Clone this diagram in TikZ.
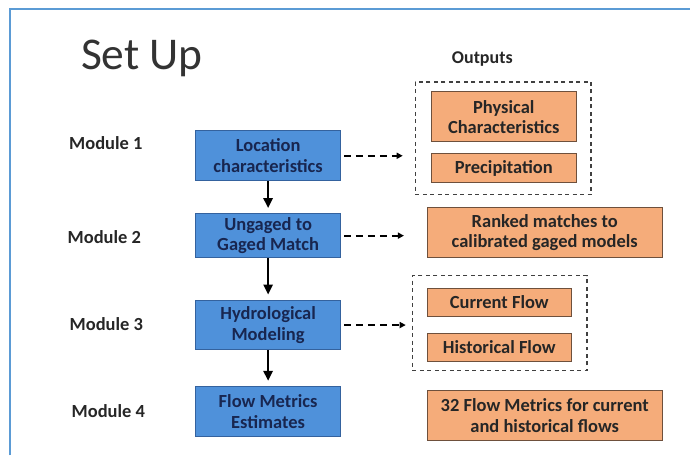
\documentclass[tikz,border=0pt]{standalone}
\usepackage{fontspec}
\setmainfont{Carlito}
\usetikzlibrary{arrows.meta}
\definecolor{slideline}{RGB}{91,155,213}
\definecolor{modfill}{RGB}{79,145,218}
\definecolor{moddraw}{RGB}{52,98,158}
\definecolor{modtext}{RGB}{24,38,80}
\definecolor{outfill}{RGB}{245,172,122}
\definecolor{outdraw}{RGB}{110,80,60}

\begin{document}
\begin{tikzpicture}[
        x=1pt,
        y={(0pt,-1pt)},
        modbox/.style={rectangle, draw=moddraw, fill=modfill, line width=1pt, minimum width=145pt, minimum height=50pt, inner sep=2pt, align=center, text=modtext, font=\bfseries\fontsize{18.5}{20.5}\selectfont},
        outbox/.style={rectangle, draw=outdraw, fill=outfill, line width=1pt, inner sep=2pt, align=center, text=black!85, font=\bfseries\fontsize{18.5}{20.5}\selectfont},
        grpbox/.style={rectangle, draw=black!75, line width=1.4pt, dash pattern=on 4pt off 3.5pt},
        modlabel/.style={inner sep=0pt, text=black!85, font=\bfseries\fontsize{18.5}{20.5}\selectfont},
        link/.style={-{Triangle[length=10pt,width=9pt]}, line width=2.6pt, shorten >=5pt},
        feed/.style={-{Triangle[length=6pt,width=6pt]}, line width=1.8pt, dash pattern=on 7pt off 5pt, shorten <=3pt},
        ]

        % slide frame
        \draw[slideline, line width=2pt] (10,456) -- (10,9) -- (691,9);
        \useasboundingbox (0,0) rectangle (691,456);

        \node(title)[anchor=base west, inner sep=0pt, text=black!80, font=\fontsize{45.5}{50}\selectfont] at (81,70) {Set Up};
        \node(outputs)[modlabel, font=\bfseries\fontsize{18}{20}\selectfont] at (483,59) {Outputs};

        \node(m1)[modlabel] at (106,143) {Module 1};
        \node(m2)[modlabel] at (104.5,237) {Module 2};
        \node(m3)[modlabel] at (106.5,325) {Module 3};
        \node(m4)[modlabel] at (108.5,412) {Module 4};

        \node(loc)[modbox] at (268.5,156) {Location\\characteristics};
        \node(match)[modbox, minimum height=44pt] at (268.5,236) {Ungaged to\\Gaged Match};
        \node(hydro)[modbox] at (268.5,325.5) {Hydrological\\Modeling};
        \node(metrics)[modbox] at (268.5,412) {Flow Metrics\\Estimates};

        \node(grp1)[grpbox, minimum width=176pt, minimum height=113pt] at (504,138.5) {};
        \node(grp2)[grpbox, minimum width=175pt, minimum height=95pt] at (500.5,323.5) {};

        \node(phys)[outbox, minimum width=145pt, minimum height=50pt] at (504.5,117) {Physical\\Characteristics};
        \node(precip)[outbox, minimum width=145pt, minimum height=29pt] at (504.5,168.5) {Precipitation};
        \node(ranked)[outbox, minimum width=235pt, minimum height=50pt] at (545.5,233) {Ranked matches to\\calibrated gaged models};
        \node(current)[outbox, minimum width=144pt, minimum height=28pt] at (500,303) {Current Flow};
        \node(hist)[outbox, minimum width=144pt, minimum height=28pt] at (500,348) {Historical Flow};
        \node(flows)[outbox, minimum width=235pt, minimum height=50pt] at (545.5,416) {32 Flow Metrics for current\\and historical flows};

        \draw[link](loc)--(match);
        \draw[link](match)--(hydro);
        \draw[link](hydro)--(metrics);

        \draw[feed, shorten >=12pt](loc.east)--(loc.east -| grp1.west);
        \draw[feed, shorten >=23pt](match.east)--(ranked.west |- match.east);
        \draw[feed, shorten >=6pt](hydro.east)--(hydro.east -| grp2.west);

      \end{tikzpicture}
\end{document}
